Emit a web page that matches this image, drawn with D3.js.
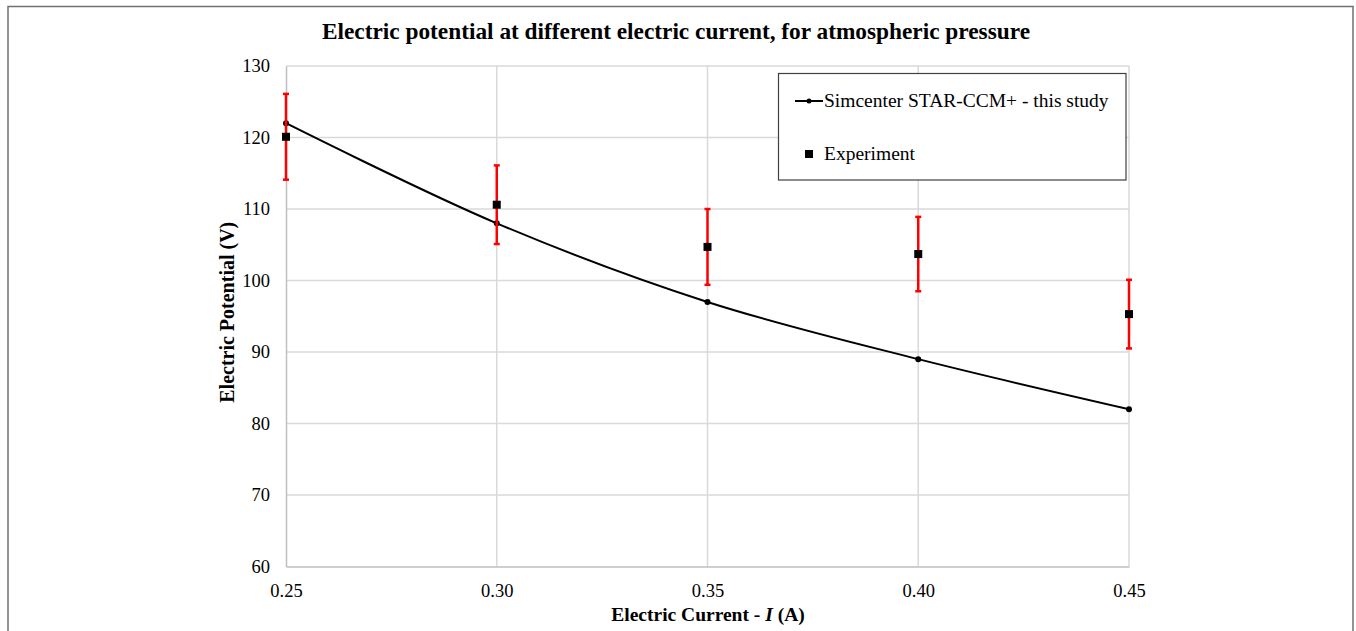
<!DOCTYPE html>
<html>
<head>
<meta charset="utf-8">
<script src="https://cdn.jsdelivr.net/npm/d3@7"></script>
<style>
  html, body { margin: 0; padding: 0; background: #fff; }
  svg { display: block; }
  svg text { font-family: "Liberation Serif", "Times New Roman", serif !important; fill: #000; }
</style>
</head>
<body>
<svg id="chart" width="1356" height="631"></svg>
<script>
// Electric current (A) at which potential was evaluated
const current = [0.25, 0.30, 0.35, 0.40, 0.45];
// Simcenter STAR-CCM+ simulated potential (V)
const simPotential = [122, 108, 97, 89, 82];
// Experimental potential (V) and its uncertainty (V)
const expPotential = [120.1, 110.6, 104.7, 103.7, 95.3];
const expError = [6.0, 5.5, 5.3, 5.2, 4.8];
// Axis ticks
const xTicks = [0.25, 0.30, 0.35, 0.40, 0.45];
const yTicks = [60, 70, 80, 90, 100, 110, 120, 130];

const svg = d3.select("#chart");
const plot = { left: 286, right: 1129, top: 66, bottom: 566.5 };

const x = d3.scaleLinear().domain([0.25, 0.45]).range([plot.left, plot.right]);
const y = d3.scaleLinear().domain([60, 130]).range([plot.bottom, plot.top]);

// Outer frame
svg.append("rect")
  .attr("x", 8).attr("y", 6.5).attr("width", 1345).attr("height", 700)
  .attr("fill", "none").attr("stroke", "#707070").attr("stroke-width", 1.5);

// Title
svg.append("text")
  .attr("x", 676).attr("y", 39)
  .attr("text-anchor", "middle")
  .style("font-weight", "bold")
  .style("font-size", "24px")
  .attr("textLength", 708)
  .attr("lengthAdjust", "spacingAndGlyphs")
  .text("Electric potential at different electric current, for atmospheric pressure");

// Gridlines
const grid = svg.append("g");
grid.selectAll("line.h").data(yTicks.slice(1)).join("line")
  .attr("x1", plot.left).attr("x2", plot.right)
  .attr("y1", d => y(d)).attr("y2", d => y(d))
  .attr("stroke", "#d9d9d9").attr("stroke-width", 1.5);
grid.selectAll("line.v").data(xTicks.slice(1)).join("line")
  .attr("x1", d => x(d)).attr("x2", d => x(d))
  .attr("y1", plot.top).attr("y2", plot.bottom)
  .attr("stroke", "#d9d9d9").attr("stroke-width", 1.5);

// Axes
const xAxis = d3.axisBottom(x).tickValues(xTicks).tickSize(0).tickPadding(17)
  .tickFormat(d3.format(".2f"));
const gx = svg.append("g").attr("transform", `translate(0,${plot.bottom})`).call(xAxis);
gx.select(".domain").attr("stroke", "#bfbfbf").attr("stroke-width", 1.5);
gx.selectAll("text").style("font-size", "18.5px");

const yAxis = d3.axisLeft(y).tickValues(yTicks).tickSize(0).tickPadding(16);
const gy = svg.append("g").attr("transform", `translate(${plot.left},0)`).call(yAxis);
gy.select(".domain").attr("stroke", "#bfbfbf").attr("stroke-width", 1.5);
gy.selectAll("text").style("font-size", "18.5px");

// Axis titles
const xTitle = svg.append("text")
  .attr("x", 708).attr("y", 621)
  .attr("text-anchor", "middle")
  .style("font-weight", "bold").style("font-size", "19.5px");
xTitle.append("tspan").text("Electric Current - ");
xTitle.append("tspan").style("font-style", "italic").text("I");
xTitle.append("tspan").text(" (A)");

svg.append("text")
  .attr("transform", `translate(234,${(plot.top + plot.bottom) / 2 - 4}) rotate(-90)`)
  .attr("text-anchor", "middle")
  .style("font-weight", "bold").style("font-size", "20px")
  .text("Electric Potential (V)");

// Simulation curve (smoothed)
const simData = current.map((c, i) => [c, simPotential[i]]);
svg.append("path")
  .datum(simData)
  .attr("fill", "none").attr("stroke", "#000").attr("stroke-width", 2)
  .attr("d", d3.line().x(d => x(d[0])).y(d => y(d[1])).curve(d3.curveCatmullRom.alpha(0.5)));
svg.selectAll("circle.sim").data(simData).join("circle")
  .attr("cx", d => x(d[0])).attr("cy", d => y(d[1])).attr("r", 3)
  .attr("fill", "#000");

// Experimental points with error bars
const expData = current.map((c, i) => ({ c, v: expPotential[i], e: expError[i] }));
const eb = svg.append("g").attr("stroke", "#ff0000").attr("stroke-width", 2.5);
eb.selectAll("line.bar").data(expData).join("line")
  .attr("x1", d => x(d.c)).attr("x2", d => x(d.c))
  .attr("y1", d => y(d.v + d.e)).attr("y2", d => y(d.v - d.e));
eb.selectAll("line.capTop").data(expData).join("line")
  .attr("x1", d => x(d.c) - 3).attr("x2", d => x(d.c) + 3)
  .attr("y1", d => y(d.v + d.e)).attr("y2", d => y(d.v + d.e));
eb.selectAll("line.capBot").data(expData).join("line")
  .attr("x1", d => x(d.c) - 3).attr("x2", d => x(d.c) + 3)
  .attr("y1", d => y(d.v - d.e)).attr("y2", d => y(d.v - d.e));
svg.selectAll("rect.exp").data(expData).join("rect")
  .attr("x", d => x(d.c) - 4).attr("y", d => y(d.v) - 4)
  .attr("width", 8).attr("height", 8).attr("fill", "#000");

// Legend
const lg = svg.append("g");
lg.append("rect")
  .attr("x", 778.5).attr("y", 73.5).attr("width", 347.5).attr("height", 106.5)
  .attr("fill", "#fff").attr("stroke", "#404040").attr("stroke-width", 1.2);
lg.append("line").attr("x1", 795).attr("x2", 823).attr("y1", 101).attr("y2", 101)
  .attr("stroke", "#000").attr("stroke-width", 2);
lg.append("circle").attr("cx", 809).attr("cy", 101).attr("r", 2.5).attr("fill", "#000");
lg.append("text").attr("x", 824).attr("y", 107).style("font-size", "19.5px")
  .text("Simcenter STAR-CCM+ - this study");
lg.append("rect").attr("x", 805).attr("y", 150).attr("width", 8).attr("height", 8).attr("fill", "#000");
lg.append("text").attr("x", 824).attr("y", 160).style("font-size", "19.5px")
  .text("Experiment");
</script>
</body>
</html>
